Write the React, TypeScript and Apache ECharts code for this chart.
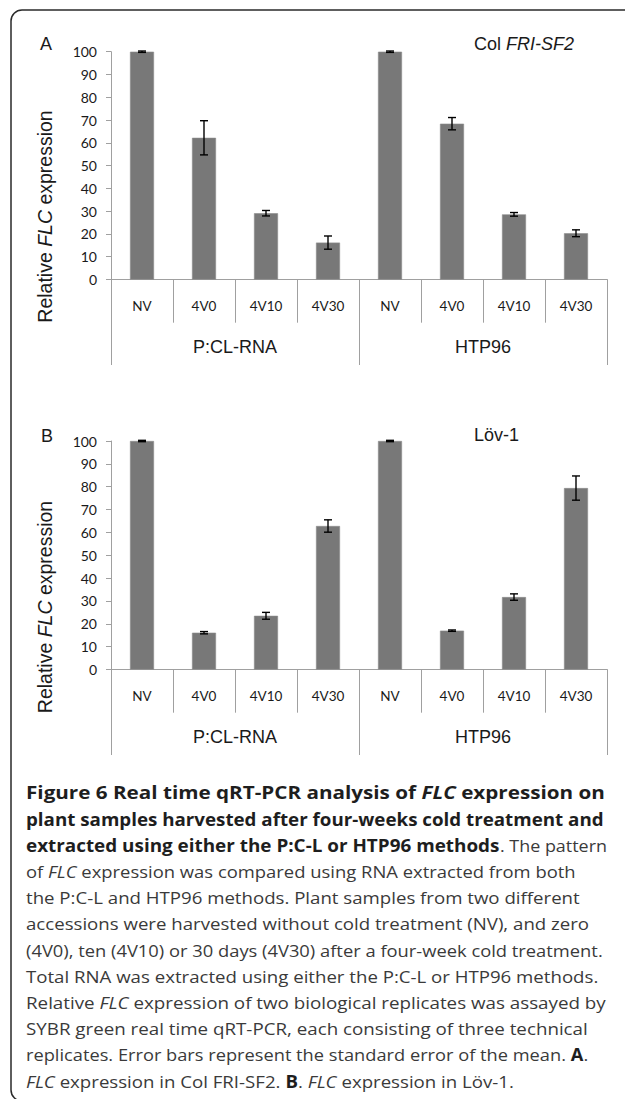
import React, { useEffect, useRef } from 'react';
import * as echarts from 'echarts';

const categories = ['NV', '4V0', '4V10', '4V30', 'NV', '4V0', '4V10', '4V30'];
const groups = ['P:CL-RNA', 'HTP96'];
const yMin = 0;
const yMax = 100;
const yInterval = 10;

// Panel A: Col FRI-SF2
const colValues = [100, 62.2, 29.1, 16.2, 100, 68.4, 28.6, 20.3];
const colErrors = [0.3, 7.5, 1.2, 2.9, 0.3, 2.7, 0.8, 1.5];
// Panel B: Löv-1
const lovValues = [100, 16.1, 23.5, 62.8, 100, 17.0, 31.7, 79.4];
const lovErrors = [0.3, 0.5, 1.5, 2.7, 0.3, 0.3, 1.4, 5.3];

type Seg = [string, string];
type Run = { segs: Seg[]; endX: number };

const captionLines: Run[][] = [
  [{ segs: [['b', 'Figure 6 Real time qRT-PCR analysis of '], ['bi', 'FLC'], ['b', ' expression on']], endX: 605 }],
  [{ segs: [['b', 'plant samples harvested after four-weeks cold treatment and']], endX: 604 }],
  [
    { segs: [['b', 'extracted using either the P:C-L or HTP96 methods']], endX: 500 },
    { segs: [['r', '. The pattern']], endX: 607 },
  ],
  [{ segs: [['r', 'of '], ['i', 'FLC'], ['r', ' expression was compared using RNA extracted from both']], endX: 576 }],
  [{ segs: [['r', 'the P:C-L and HTP96 methods. Plant samples from two different']], endX: 580 }],
  [{ segs: [['r', 'accessions were harvested without cold treatment (NV), and zero']], endX: 589 }],
  [{ segs: [['r', '(4V0), ten (4V10) or 30 days (4V30) after a four-week cold treatment.']], endX: 603 }],
  [{ segs: [['r', 'Total RNA was extracted using either the P:C-L or HTP96 methods.']], endX: 599 }],
  [{ segs: [['r', 'Relative '], ['i', 'FLC'], ['r', ' expression of two biological replicates was assayed by']], endX: 606 }],
  [{ segs: [['r', 'SYBR green real time qRT-PCR, each consisting of three technical']], endX: 588 }],
  [{ segs: [['r', 'replicates. Error bars represent the standard error of the mean. '], ['b', 'A'], ['r', '.']], endX: 588 }],
  [{
    segs: [['i', 'FLC'], ['r', ' expression in Col FRI-SF2. '], ['b', 'B'], ['r', '. '], ['i', 'FLC'], ['r', ' expression in Löv-1.']],
    endX: 514,
  }],
];

const AXIS_GRAY = '#a0a0a0';
const BAR_GRAY = '#787878';
const TEXT = '#1a1a1a';
const CAP_FONT = 'Open Sans';
const CAP_SIZE = 17;
const CAP_X = 26;
const CAP_Y0 = 792.7;
const CAP_DY = 26.2;

const capStyles: Record<string, { weight: string; style: string; fill: string }> = {
  b: { weight: 'bold', style: 'normal', fill: '#1e1e1e' },
  bi: { weight: 'bold', style: 'italic', fill: '#1e1e1e' },
  r: { weight: 'normal', style: 'normal', fill: '#3a3a3a' },
  i: { weight: 'normal', style: 'italic', fill: '#3a3a3a' },
};

let measureCtx: CanvasRenderingContext2D | null = null;
function measureSegs(segs: Seg[]): number {
  if (!measureCtx) measureCtx = document.createElement('canvas').getContext('2d');
  let w = 0;
  segs.forEach(([k, t]) => {
    const s = capStyles[k];
    measureCtx!.font = `${s.style} ${s.weight} ${CAP_SIZE}px "${CAP_FONT}"`;
    w += measureCtx!.measureText(t).width;
  });
  return w;
}

const renderErr = (params: any, api: any) => {
  const x = api.value(0);
  const lo = api.value(1);
  const hi = api.value(2);
  const pLo = api.coord([x, lo]);
  const pHi = api.coord([x, hi]);
  const half = 4;
  const style = { stroke: '#000', lineWidth: 1.4 };
  return {
    type: 'group',
    children: [
      { type: 'line', shape: { x1: pHi[0], y1: pHi[1], x2: pLo[0], y2: pLo[1] }, style },
      { type: 'line', shape: { x1: pHi[0] - half, y1: pHi[1], x2: pHi[0] + half, y2: pHi[1] }, style },
      { type: 'line', shape: { x1: pLo[0] - half, y1: pLo[1], x2: pLo[0] + half, y2: pLo[1] }, style },
    ],
  };
};

function buildOption() {
  const grids = [
    { left: 111, top: 51.7, width: 496, height: 227.8, outerBoundsMode: 'none' },
    { left: 111, top: 441, width: 496, height: 228.5, outerBoundsMode: 'none' },
  ];
  const xAxes: any[] = [];
  const yAxes: any[] = [];
  const series: any[] = [];
  const panels = [
    { values: colValues, errors: colErrors },
    { values: lovValues, errors: lovErrors },
  ];
  panels.forEach((p, gi) => {
    xAxes.push({
      type: 'category',
      gridIndex: gi,
      data: categories,
      position: 'bottom',
      axisLine: { show: true, lineStyle: { color: AXIS_GRAY, width: 1 } },
      axisTick: { show: true, length: 43.2, interval: 0, lineStyle: { color: AXIS_GRAY, width: 1 } },
      axisLabel: { interval: 0, margin: 19.5, fontSize: 13.5, fontFamily: 'Lato', color: TEXT },
      splitLine: { show: false },
    });
    xAxes.push({
      type: 'category',
      gridIndex: gi,
      data: groups,
      position: 'bottom',
      axisLine: { show: false },
      axisTick: { show: true, length: 85.5, interval: 0, lineStyle: { color: AXIS_GRAY, width: 1 } },
      axisLabel: { interval: 0, margin: 58.5, fontSize: 18, fontFamily: 'Liberation Sans', color: TEXT },
      splitLine: { show: false },
    });
    yAxes.push({
      type: 'value',
      gridIndex: gi,
      min: yMin,
      max: yMax,
      interval: yInterval,
      axisLine: { show: true, lineStyle: { color: AXIS_GRAY, width: 1 } },
      axisTick: { show: true, length: 5, lineStyle: { color: AXIS_GRAY, width: 1 } },
      axisLabel: { margin: 14, fontSize: 14, fontFamily: 'Lato', color: TEXT },
      splitLine: { show: false },
    });
    series.push({
      type: 'bar',
      xAxisIndex: gi * 2,
      yAxisIndex: gi,
      data: p.values,
      barWidth: 24,
      itemStyle: { color: BAR_GRAY, borderColor: '#8c8c8c', borderWidth: 0.6 },
    });
    series.push({
      type: 'custom',
      xAxisIndex: gi * 2,
      yAxisIndex: gi,
      renderItem: renderErr,
      encode: { x: 0, y: [1, 2] },
      data: p.values.map((v, i) => [i, v - p.errors[i], v + p.errors[i]]),
      z: 10,
    });
  });

  const richCap: Record<string, any> = {};
  Object.keys(capStyles).forEach((k) => {
    const s = capStyles[k];
    richCap[k] = { fontFamily: CAP_FONT, fontSize: CAP_SIZE, fontWeight: s.weight, fontStyle: s.style, fill: s.fill };
  });

  const graphic: any[] = [
    {
      type: 'rect',
      shape: { x: 11, y: 10, width: 640, height: 1091, r: 11 },
      style: { fill: 'none', stroke: '#2a2a2a', lineWidth: 1.5 },
      silent: true,
    },
    {
      type: 'text', x: 46, y: 44,
      style: { text: 'A', fontSize: 18, fontFamily: 'Liberation Sans', fill: TEXT, align: 'center', verticalAlign: 'middle' },
    },
    {
      type: 'text', x: 47, y: 436,
      style: { text: 'B', fontSize: 18, fontFamily: 'Liberation Sans', fill: TEXT, align: 'center', verticalAlign: 'middle' },
    },
    {
      type: 'text', x: 474, y: 44,
      style: {
        text: 'Col {i|FRI-SF2}', fontSize: 18, fontFamily: 'Liberation Sans', fill: TEXT, align: 'left', verticalAlign: 'middle',
        rich: { i: { fontSize: 18, fontFamily: 'Liberation Sans', fontStyle: 'italic', fill: TEXT } },
      },
    },
    {
      type: 'text', x: 474, y: 435,
      style: { text: 'Löv-1', fontSize: 18, fontFamily: 'Liberation Sans', fill: TEXT, align: 'left', verticalAlign: 'middle' },
    },
  ];
  [216.5, 607].forEach((cy) => {
    graphic.push({
      type: 'text', x: 44.5, y: cy, rotation: Math.PI / 2,
      style: {
        text: 'Relative {i|FLC} expression', fontSize: 19.5, fontFamily: 'Liberation Sans', fill: TEXT,
        align: 'center', verticalAlign: 'middle',
        rich: { i: { fontSize: 19.5, fontFamily: 'Liberation Sans', fontStyle: 'italic', fill: TEXT } },
      },
    });
  });
  captionLines.forEach((runs, li) => {
    let startX = CAP_X;
    runs.forEach((run) => {
      const w = measureSegs(run.segs);
      const sx = w > 0 ? (run.endX - startX) / w : 1;
      const text = run.segs.map(([k, t]) => `{${k}|${t}}`).join('');
      graphic.push({
        type: 'text', x: startX, y: CAP_Y0 + CAP_DY * li, scaleX: sx,
        style: { text, rich: richCap, align: 'left', verticalAlign: 'middle', fontFamily: CAP_FONT, fontSize: CAP_SIZE },
      });
      startX = run.endX;
    });
  });

  return {
    animation: false,
    backgroundColor: '#ffffff',
    grid: grids,
    xAxis: xAxes,
    yAxis: yAxes,
    series,
    graphic,
  };
}

export default function App() {
  const ref = useRef<HTMLDivElement>(null);
  useEffect(() => {
    if (!ref.current) return;
    const chart = echarts.init(ref.current, null, { renderer: 'svg' });
    chart.setOption(buildOption() as any);
    return () => chart.dispose();
  }, []);
  return (
    <div
      ref={ref}
      style={{ position: 'absolute', left: 0, top: 0, width: 625, height: 1099, background: '#fff' }}
    />
  );
}
